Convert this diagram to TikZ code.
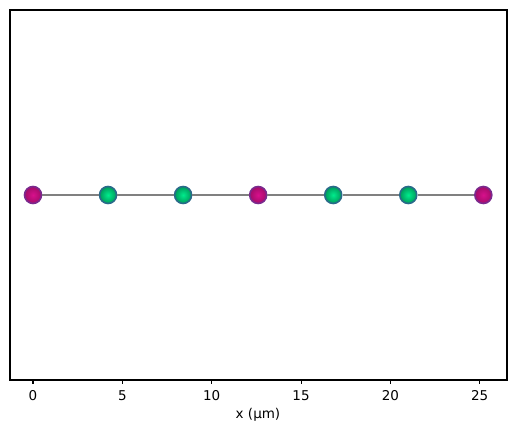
\documentclass[tikz,border=0pt]{standalone}
\usepackage{fontspec}
\setmainfont{DejaVu Sans}
\definecolor{magc}{HTML}{D8108C}
\definecolor{mage}{HTML}{7A2A8E}
\definecolor{grnc}{HTML}{00EC8C}
\definecolor{grne}{HTML}{2A6A8A}
\tikzset{
  atomA/.style={circle, minimum size=17pt, inner sep=0pt, draw=mage, line width=1.6pt, inner color=magc, outer color=magc!75!black},
  atomB/.style={circle, minimum size=17pt, inner sep=0pt, draw=grne, line width=1.6pt, inner color=grnc, outer color=grnc!65!black},
  ticklab/.style={font=\fontsize{13.5}{16}\selectfont, text=black}
}
\begin{document}
\begin{tikzpicture}[x=1pt, y=-1pt]
\useasboundingbox (0,0) rectangle (515,433);
% frame
\draw[line width=1.1pt] (10,10) rectangle (507,380);
% ticks, 17.87 units per micrometre
\foreach \v in {0,5,...,25}
  \draw[line width=1.1pt] ({33+17.87*\v},380)--({33+17.87*\v},384)node[ticklab, below=3pt]{\v};
\node[ticklab] (xlab) at (258,415) {x (μm)};

% chain
\node[atomA] (a0) at ({33+17.87*0},195) {};
\node[atomB] (a1) at ({33+17.87*4.2},195) {};
\node[atomB] (a2) at ({33+17.87*8.4},195) {};
\node[atomA] (a3) at ({33+17.87*12.6},195) {};
\node[atomB] (a4) at ({33+17.87*16.8},195) {};
\node[atomB] (a5) at ({33+17.87*21.0},195) {};
\node[atomA] (a6) at ({33+17.87*25.2},195) {};
\foreach \i [evaluate=\i as \j using int(\i+1)] in {0,...,5}
  \draw[gray, line width=2pt] (a\i)--(a\j);
\end{tikzpicture}
\end{document}
